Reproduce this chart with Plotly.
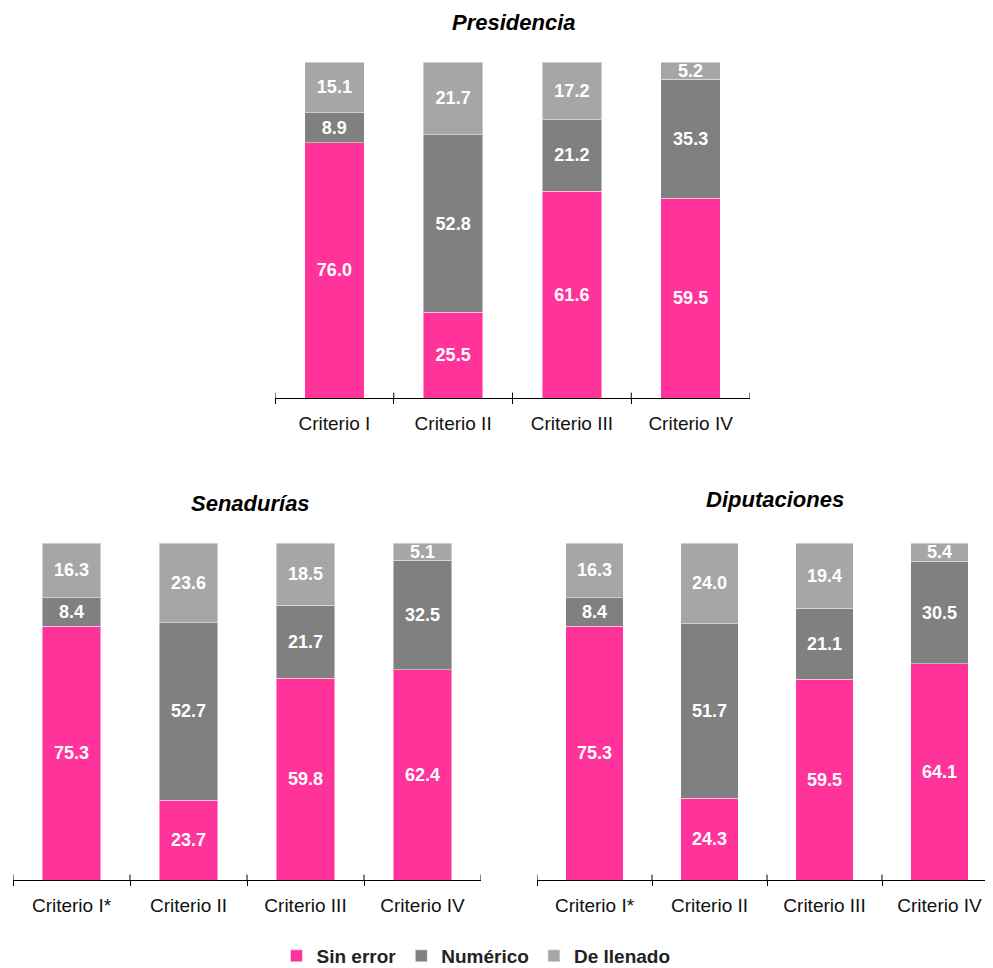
import plotly.graph_objects as go

# ---- data ----
cats_pres = ["Criterio I", "Criterio II", "Criterio III", "Criterio IV"]
cats_other = ["Criterio I*", "Criterio II", "Criterio III", "Criterio IV"]

pres_sin = [76.0, 25.5, 61.6, 59.5]
pres_num = [8.9, 52.8, 21.2, 35.3]
pres_dell = [15.1, 21.7, 17.2, 5.2]

sen_sin = [75.3, 23.7, 59.8, 62.4]
sen_num = [8.4, 52.7, 21.7, 32.5]
sen_dell = [16.3, 23.6, 18.5, 5.1]

dip_sin = [75.3, 24.3, 59.5, 64.1]
dip_num = [8.4, 51.7, 21.1, 30.5]
dip_dell = [16.3, 24.0, 19.4, 5.4]

series_names = ["Sin error", "Numérico", "De llenado"]
colors = ["#FF3399", "#808080", "#A6A6A6"]
titles = ["Presidencia", "Senadurías", "Diputaciones"]

FONT = "Liberation Sans, Arial, sans-serif"

# page body has an 8px margin: figure is sized to fit the window inside it
OFF = 8
W = 993.0 - OFF
H = 968.0 - OFF


def px(x):
    return (x - OFF) / W


def py(y):
    return 1 - (y - OFF) / H


panels = [
    (cats_pres, [pres_sin, pres_num, pres_dell], "x", "y"),
    (cats_other, [sen_sin, sen_num, sen_dell], "x2", "y2"),
    (cats_other, [dip_sin, dip_num, dip_dell], "x3", "y3"),
]

fig = go.Figure()
for pi, (cats, vals, xa, ya) in enumerate(panels):
    for si, v in enumerate(vals):
        fig.add_trace(go.Bar(
            x=cats, y=v, name=series_names[si], xaxis=xa, yaxis=ya,
            marker=dict(color=colors[si], line=dict(color="rgba(255,255,255,0.45)", width=1)),
            texttemplate="%{y:.1f}", textposition="inside", insidetextanchor="middle",
            constraintext="none",
            textfont=dict(family=FONT, size=18, color="white", weight="bold"),
            showlegend=(pi == 0), legendgroup=series_names[si],
            hoverinfo="skip",
        ))

xcommon = dict(type="category", showline=True, linecolor="black", linewidth=1,
               ticks="outside", ticklen=5, tickcolor="black", tickwidth=1,
               tickson="boundaries", showgrid=False, zeroline=False,
               tickfont=dict(family=FONT, size=19, color="#111111"),
               ticklabelstandoff=8, fixedrange=True)
ycommon = dict(range=[0, 100], visible=False, fixedrange=True)

fig.update_layout(
    width=int(W), height=int(H),
    margin=dict(l=0, r=0, t=0, b=0, autoexpand=False),
    paper_bgcolor="white", plot_bgcolor="white",
    barmode="stack", bargap=0.5,
    xaxis=dict(xcommon, domain=[px(275), px(750)], range=[-0.5, 3.5], anchor="y"),
    yaxis=dict(ycommon, domain=[py(398), py(62)], anchor="x"),
    xaxis2=dict(xcommon, domain=[px(13), px(481)], range=[-0.5, 3.5], anchor="y2"),
    yaxis2=dict(ycommon, domain=[py(880), py(543)], anchor="x2"),
    xaxis3=dict(xcommon, domain=[px(537), 1.0], range=[-0.5, -0.5 + 456 / 115.0], anchor="y3"),
    yaxis3=dict(ycommon, domain=[py(880), py(543)], anchor="x3"),
    legend=dict(orientation="h", x=px(476), xanchor="center", y=py(956), yanchor="middle",
                font=dict(family=FONT, size=19, color="#222222", weight="bold"),
                itemwidth=30, traceorder="normal", bgcolor="rgba(0,0,0,0)"),
    showlegend=True,
)

# titles
fig.add_annotation(text="<b><i>Presidencia</i></b>", xref="paper", yref="paper",
                   x=px(514), y=1.0, xanchor="center", yanchor="top",
                   showarrow=False, font=dict(family=FONT, size=22, color="black"))
for t, (tx, ty) in zip(titles[1:], [(250, 503), (775, 500)]):
    fig.add_annotation(text="<b><i>%s</i></b>" % t, xref="paper", yref="paper",
                       x=px(tx), y=py(ty), xanchor="center", yanchor="middle",
                       showarrow=False, font=dict(family=FONT, size=22, color="black"))

# upward half of the crossing tick marks at category boundaries
for xa, ya, cats in [("x", "y", cats_pres), ("x2", "y2", cats_other), ("x3", "y3", cats_other)]:
    for k in range(len(cats) + 1):
        b = k - 0.5
        fig.add_shape(type="line", xref=xa, yref=ya, x0=b, x1=b, y0=0, y1=1.6,
                      line=dict(color="black", width=1), layer="above")

fig.write_html("out.html")
